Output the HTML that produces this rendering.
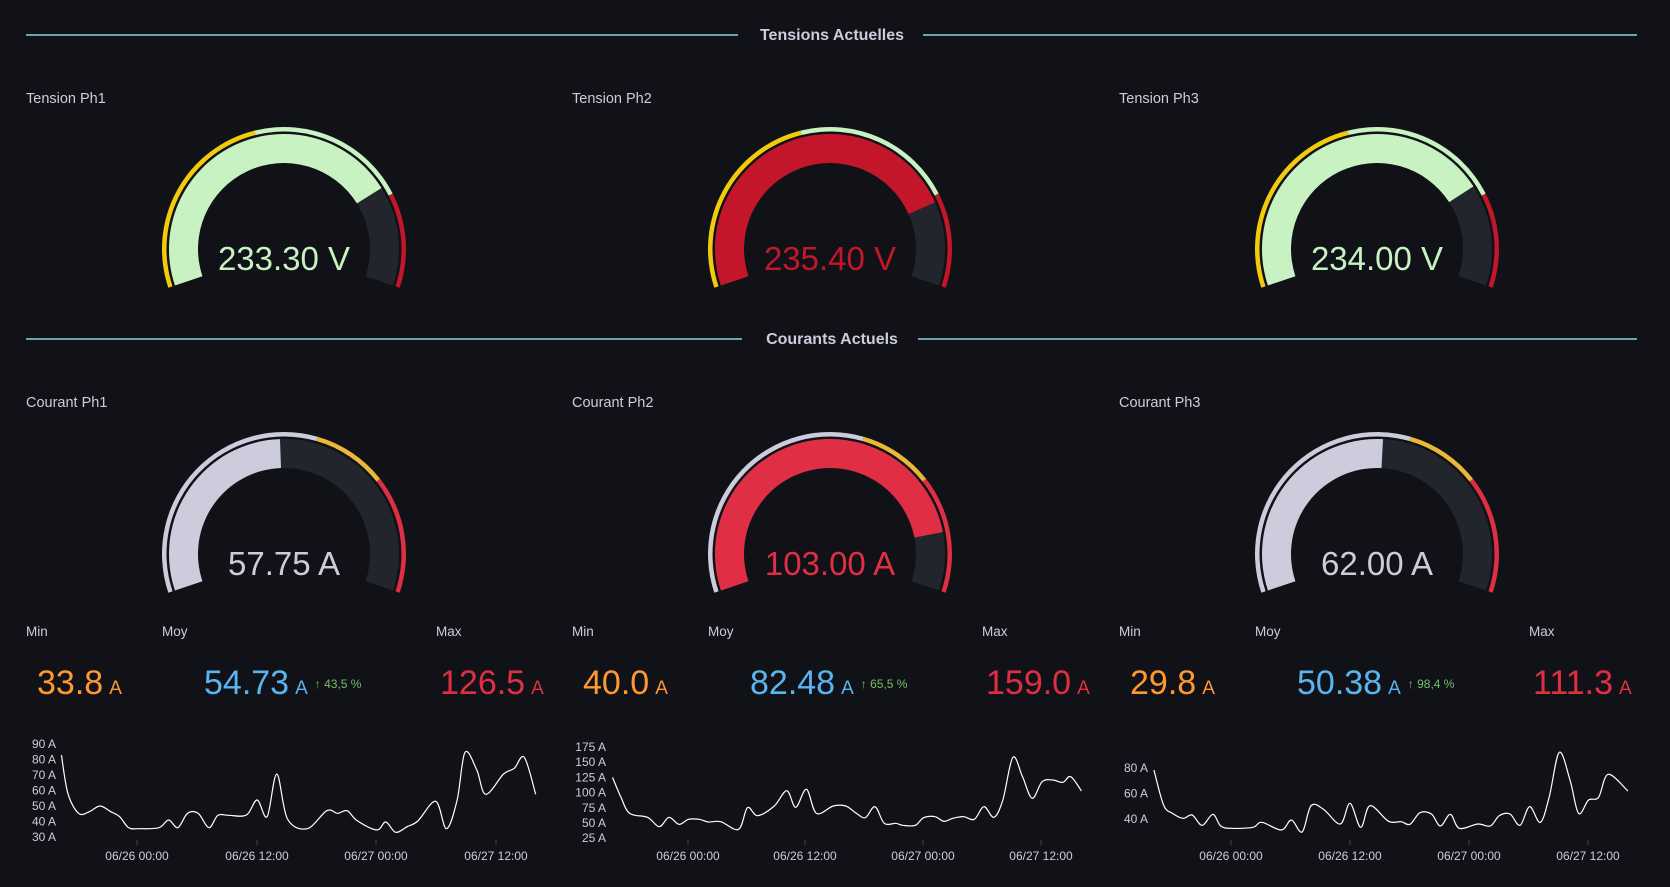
<!DOCTYPE html>
<html><head><meta charset="utf-8"><style>
body{margin:0;background:#111217;width:1670px;height:887px;overflow:hidden;font-family:"Liberation Sans",sans-serif;color:#ccccdc}
svg{position:absolute;left:0;top:0}
</style></head><body>
<svg id="s" width="1670" height="887" xmlns="http://www.w3.org/2000/svg" font-family="Liberation Sans, sans-serif"></svg>
<script>
const S=document.getElementById('s');let h='';
function t(x,y,s,txt,fill,anchor,w){h+=`<text x="${x}" y="${y}" font-size="${s}" fill="${fill}" text-anchor="${anchor||'start'}" font-weight="${w||'normal'}">${txt}</text>`;}
function sec(y,label,g1,g2){h+=`<line x1="26" y1="${y}" x2="${g1}" y2="${y}" stroke="#8fd0ef" stroke-width="1.5"/><line x1="${g2}" y1="${y}" x2="1637" y2="${y}" stroke="#8fd0ef" stroke-width="1.5"/>`;t(832,y+5,16,label,'#ccccdc','middle','bold');}
sec(35,'Tensions Actuelles',738,923);sec(339,'Courants Actuels',742,918);
const A0=198.5,A1=-18.5;
function arc(cx,cy,r1,r2,a,b,c){const R=Math.PI/180;
 const p=(r,an)=>[cx+r*Math.cos(an*R),cy-r*Math.sin(an*R)];
 const large=(a-b)>180?1:0;const [x1,y1]=p(r2,a),[x2,y2]=p(r2,b),[x3,y3]=p(r1,b),[x4,y4]=p(r1,a);
 h+=`<path d="M${x1},${y1} A${r2},${r2} 0 ${large} 1 ${x2},${y2} L${x3},${y3} A${r1},${r1} 0 ${large} 0 ${x4},${y4}Z" fill="${c}"/>`;}
function gauge(cx,cy,fillTo,fc,th,val,vc){arc(cx,cy,86,115,A0,A1,'#22252b');arc(cx,cy,86,115,A0,fillTo,fc);
 let a=A0;th.forEach(([e,c])=>{arc(cx,cy,117.5,122,a,e,c);a=e;});t(cx,cy+21,33,val,vc,'middle');}
const VT=[[104,'#f2cc0c'],[27,'#c8f2c2'],[A1,'#c4162a']];
const CT=[[74,'#ccccdc'],[38,'#eab839'],[A1,'#e02f44']];
const xs=[0,546,1093];
['Tension Ph1','Tension Ph2','Tension Ph3'].forEach((n,i)=>t(26+xs[i],103,14.5,n,'#ccccdc'));
['Courant Ph1','Courant Ph2','Courant Ph3'].forEach((n,i)=>t(26+xs[i],407,14.5,n,'#ccccdc'));
gauge(284,249,32,'#c8f2c2',VT,'233.30 V','#c8f2c2');
gauge(830,249,24,'#c4162a',VT,'235.40 V','#c4162a');
gauge(1377,249,33,'#c8f2c2',VT,'234.00 V','#c8f2c2');
gauge(284,554,92,'#ccccdc',CT,'57.75 A','#ccccdc');
gauge(830,554,11,'#e02f44',CT,'103.00 A','#e02f44');
gauge(1377,554,87,'#ccccdc',CT,'62.00 A','#ccccdc');
const st=[['33.8','54.73','43,5 %','126.5'],['40.0','82.48','65,5 %','159.0'],['29.8','50.38','98,4 %','111.3']];
st.forEach((s,i)=>{const o=xs[i];
 t(26+o,636,13.5,'Min','#ccccdc');t(162+o,636,13.5,'Moy','#ccccdc');t(436+o,636,13.5,'Max','#ccccdc');
 h+=`<text x="${37+o}" y="694" font-size="34" fill="#ff9830">${s[0]}<tspan font-size="19" dx="6">A</tspan></text>`;
 h+=`<text x="${204+o}" y="694" font-size="34" fill="#5ab4f0">${s[1]}<tspan font-size="19" dx="6">A</tspan><tspan font-size="12" dx="7" dy="-6" fill="#73bf69">↑ ${s[2]}</tspan></text>`;
 h+=`<text x="${440+o}" y="694" font-size="34" fill="#e02f44">${s[3]}<tspan font-size="19" dx="6">A</tspan></text>`;});
function curve(pts,ox){const P=pts.map(([x,y])=>[x/2.8+ox,y/3+(ox==0?600:720)]);
 let d=`M${P[0][0]},${P[0][1]}`;for(let i=0;i<P.length-1;i++){const p0=P[i-1]||P[i],p1=P[i],p2=P[i+1],p3=P[i+2]||p2;
 d+=` C${p1[0]+(p2[0]-p0[0])/6},${p1[1]+(p2[1]-p0[1])/6} ${p2[0]-(p3[0]-p1[0])/6},${p2[1]-(p3[1]-p1[1])/6} ${p2[0]},${p2[1]}`;}
 h+=`<path d="${d}" fill="none" stroke="#fff" stroke-width="1.2"/>`;}
curve([[172,465],[190,580],[220,640],[250,635],[280,618],[310,635],[335,650],[360,683],[390,686],[445,683],[472,660],[498,683],[525,640],[555,640],[585,683],[610,646],[640,646],[690,645],[720,600],[748,650],[775,522],[805,657],[860,686],[915,632],[945,640],[972,632],[1000,662],[1055,690],[1080,666],[1108,697],[1140,680],[1170,663],[1220,604],[1250,686],[1280,600],[1302,457],[1335,510],[1360,583],[1410,522],[1440,505],[1468,472],[1500,583]],0);
curve([[147,172],[170,230],[195,280],[245,292],[278,320],[305,292],[333,313],[360,298],[390,298],[415,306],[450,305],[500,328],[525,263],[553,287],[600,258],[635,212],[660,262],[690,208],[718,280],[765,258],[800,258],[830,280],[855,293],[882,260],[908,310],[940,310],[960,316],[995,316],[1018,293],[1050,290],[1075,304],[1100,295],[1130,290],[1160,298],[1187,260],[1215,292],[1240,240],[1268,112],[1295,170],[1322,235],[1350,185],[1380,180],[1408,187],[1430,170],[1460,213]],560);
curve([[123,150],[150,255],[175,280],[205,295],[230,285],[258,316],[288,283],[310,318],[340,325],[400,322],[425,307],[480,330],[508,300],[538,336],[563,257],[598,268],[645,312],[672,250],[702,322],[728,257],[780,304],[815,305],[840,313],[868,278],[900,282],[925,318],[953,283],[978,325],[1030,312],[1065,318],[1090,287],[1120,282],[1148,316],[1175,260],[1205,307],[1230,230],[1258,97],[1288,180],[1312,280],[1340,240],[1368,232],[1395,163],[1450,213]],1110);
['90 A','80 A','70 A','60 A','50 A','40 A','30 A'].forEach((l,i)=>t(56,748+i*15.5,12,l,'#ccccdc','end'));
['175 A','150 A','125 A','100 A','75 A','50 A','25 A'].forEach((l,i)=>t(606,751+i*15.2,12,l,'#ccccdc','end'));
['80 A','60 A','40 A'].forEach((l,i)=>t(1148,772+i*25.5,12,l,'#ccccdc','end'));
const xl=['06/26 00:00','06/26 12:00','06/27 00:00','06/27 12:00'];
[[137,257,376,496],[688,805,923,1041],[1231,1350,1469,1588]].forEach(a=>a.forEach((x,i)=>{t(x,860,12,xl[i],'#ccccdc','middle');h+=`<line x1="${x}" y1="840" x2="${x}" y2="845" stroke="#444"/>`;}));
S.innerHTML=h;
</script>
</body></html>
